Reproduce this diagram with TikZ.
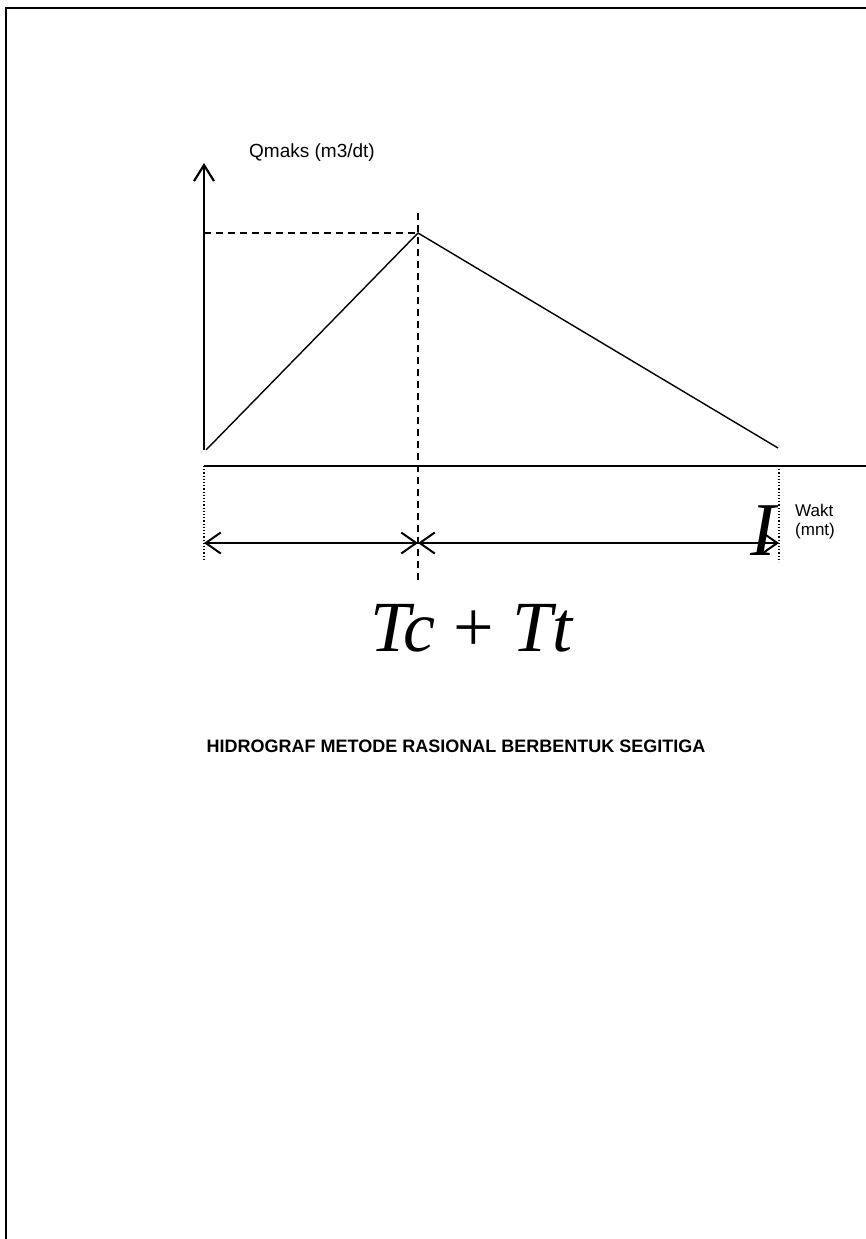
\documentclass[tikz,border=0pt]{standalone}
\usepackage{fontspec}
\setmainfont{Liberation Sans}
\newfontfamily\tnr{Liberation Serif}
\usetikzlibrary{arrows.meta}
\begin{document}
\begin{tikzpicture}[x=1pt,y=-1pt,
  thick axis/.style={line width=2.4pt},
  curve/.style={line width=1.4pt},
  barb/.tip={Straight Barb[length=15pt,width=21pt,line width=2pt]},
  dimarrow/.style={line width=2pt,barb-barb},
  lbl/.style={font=\fontsize{19}{22}\selectfont,inner sep=0pt}]
\useasboundingbox (0,0) rectangle (866,1239);
% frame
\draw[line width=2pt] (6,1239) -- (6,8) -- (866,8);
% coordinates
\coordinate (o) at (204,450);
\coordinate (ytop) at (204,163);
\coordinate (peak) at (418,233);
\coordinate (end) at (778,448);
\coordinate (start) at (206,450);
\coordinate (xl) at (204,466);
\coordinate (xr) at (866,466);
% y axis
\draw[thick axis,-{Straight Barb[length=16pt,width=20pt,line width=2.2pt]}] (o) -- (ytop);
\node[lbl] (ylab) at (312,153) {Qmaks (m3/dt)};
% dashed guides
\coordinate (dl) at (204,233);
\coordinate (dtop) at (418,213);
\coordinate (dbot) at (418,580);
\draw[dashed,line width=1.4pt,dash pattern=on 7pt off 5pt] (dl) -- (peak);
\draw[dashed,line width=1.4pt,dash pattern=on 7pt off 5pt] (dtop) -- (dbot);
% hydrograph
\draw[curve] (start) -- (peak) -- (end);
% x axis
\draw[thick axis] (xl) -- (xr);
% dotted
\coordinate (ldb) at (204,560);
\coordinate (rdt) at (779,466);
\coordinate (rdb) at (779,562);
\draw[dotted,line width=1.2pt] (xl) -- (ldb);
\draw[dotted,line width=1.2pt] (rdt) -- (rdb);
% dimension arrows
\coordinate (a1) at (204,543);
\coordinate (a2) at (418,543);
\coordinate (a3) at (779,543);
\draw[dimarrow] (a1) -- (a2);
\draw[dimarrow] (a2) -- (a3);
% I symbol
\node[inner sep=0pt] (I) at (763,531) {\tnr\itshape\fontsize{76}{80}\selectfont I};
\node[lbl,anchor=west,align=left,font=\fontsize{17}{19}\selectfont] (wak) at (795,522) {Wakt\\(mnt)};
% Tc + Tt
\node[inner sep=0pt] (tc) at (472,628) {\tnr\fontsize{72}{80}\selectfont\textit{Tc}\hspace{18pt}+\hspace{18pt}\textit{Tt}};
% title
\node[lbl,font=\bfseries\fontsize{18}{20}\selectfont] (title) at (456,746) {HIDROGRAF METODE RASIONAL BERBENTUK SEGITIGA};
\end{tikzpicture}
\end{document}
